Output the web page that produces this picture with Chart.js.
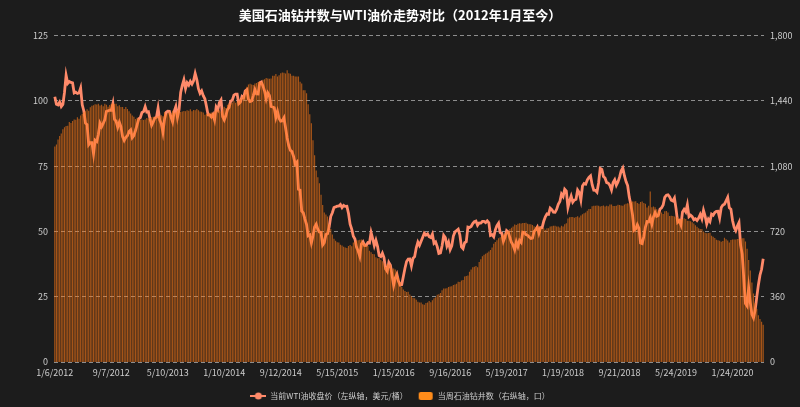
<!DOCTYPE html>
<html>
<head>
<meta charset="utf-8">
<script src="https://cdn.jsdelivr.net/npm/chart.js@4.4.1/dist/chart.umd.min.js"></script>
<style>
  html, body { margin: 0; padding: 0; background: #1c1c1c; }
  #wrap { width: 800px; height: 407px; }
</style>
</head>
<body>
<div id="wrap"><canvas id="c" width="800" height="407"></canvas></div>
<script>
// ---- Data (weekly, Fridays, starting 1/6/2012) ----
const startWeek = '2012-01-06';
const tickEvery = 35;

// WTI weekly close (USD/bbl), left axis
const wti2012 = [101.56,98.70,98.46,99.56,97.84,98.67,103.24,109.77,106.70,107.40,107.06,106.87,103.02,103.31,102.83,103.05,104.93,98.49,96.13,91.48,90.86,83.23,84.10,84.03,79.76,84.96,84.45,87.10,91.44,90.13,91.40,92.87,96.01,96.15,96.47,96.42,99.00,92.89,92.19,89.88,91.86,90.05,86.28,84.86,86.07,86.67,88.28,88.91,85.93,86.73,88.66,90.80];
const wti2013 = [93.09,93.56,95.56,95.88,97.77,95.72,95.86,93.13,90.68,91.95,93.45,93.71,97.23,92.70,91.29,88.01,93.00,95.61,96.04,96.02,93.84,91.97,96.03,97.85,93.69,96.56,103.22,105.95,108.05,104.70,106.94,106.03,107.46,106.42,107.65,110.53,108.21,104.67,102.87,103.84,102.02,100.81,97.85,94.61,94.60,93.84,94.84,92.72,97.65,96.60,99.32,100.32];
const wti2014 = [93.96,92.72,94.37,96.64,97.49,99.88,100.30,102.20,102.59,102.58,98.89,99.46,101.67,101.14,103.74,104.30,100.60,99.76,99.99,102.02,104.35,102.71,102.66,106.91,107.26,105.74,103.77,100.83,103.13,102.09,97.88,97.65,97.35,93.65,95.96,93.29,92.27,92.41,93.54,89.74,85.82,82.75,81.01,80.54,78.65,75.82,76.51,66.15,65.84,57.81,57.13,54.73];
const wti2015 = [52.69,48.36,48.69,45.59,48.24,51.69,52.78,50.81,49.76,49.61,44.84,45.72,48.87,49.14,51.64,55.74,57.15,59.15,59.39,59.69,59.72,60.30,59.13,59.96,59.61,59.63,56.93,52.74,50.89,48.14,47.12,43.87,42.50,40.45,45.22,46.05,44.63,44.68,45.70,45.54,49.63,47.26,44.60,46.59,44.29,40.74,40.39,41.71,39.97,35.62,34.73,38.10];
const wti2016 = [37.04,33.16,29.42,32.19,33.62,30.89,29.44,29.64,32.78,35.92,38.50,39.44,39.46,36.79,39.72,40.36,43.73,45.92,44.66,46.21,47.75,49.33,48.62,49.07,47.98,47.64,48.99,45.41,45.95,44.19,41.60,41.80,44.49,48.52,47.64,44.44,45.88,43.03,44.48,48.24,49.81,50.35,50.85,48.70,44.07,43.41,45.69,46.06,51.68,51.50,51.90,53.02,53.72];
const wti2017 = [53.99,52.37,53.22,53.17,53.83,53.86,53.40,54.05,53.33,48.49,48.78,47.97,50.60,52.24,53.18,49.62,49.33,46.22,47.84,50.33,49.80,47.66,45.83,44.74,43.01,46.04,44.23,46.54,45.77,49.71,49.58,48.82,48.51,47.87,47.29,47.48,49.89,50.66,51.67,49.29,51.45,51.47,53.90,55.64,56.74,56.55,58.95,58.36,57.36,57.30,58.47,60.42];
const wti2018 = [61.44,64.30,63.37,66.14,65.45,59.20,61.68,63.55,61.25,62.04,62.34,65.88,64.94,62.06,67.39,68.38,68.10,69.72,70.70,71.28,67.88,65.81,65.74,65.06,68.58,74.15,73.80,71.01,70.46,68.69,68.49,67.63,65.91,68.72,69.80,67.75,68.99,70.78,73.25,74.34,71.34,69.12,67.59,63.14,60.19,56.46,50.42,50.93,52.61,51.20,45.59,45.33];
const wti2019 = [47.96,51.59,53.80,53.69,55.26,52.72,55.59,57.26,55.80,56.07,58.52,59.04,60.14,63.08,63.89,64.00,63.30,61.94,61.66,62.76,58.63,53.50,54.10,52.51,57.43,58.47,57.51,60.21,55.63,56.20,55.66,54.50,54.87,54.17,55.10,56.52,54.85,58.09,55.91,52.81,54.70,53.78,56.66,56.20,57.24,57.72,57.77,55.17,59.20,60.07,60.44,61.72];
const wti2020 = [63.05,59.04,58.54,54.19,51.56,50.32,52.05,53.38,44.76,41.28,31.73,22.43,21.51,28.34,22.76,18.27,16.94,19.78,24.74,29.43,33.25,35.49,39.55];

// US oil rig count (weekly), right axis
const rig2012 = [1189,1199,1227,1247,1260,1283,1294,1301,1303,1323,1318,1329,1338,1336,1350,1341,1360,1368,1379,1383,1394,1386,1405,1413,1416,1421,1420,1424,1415,1419,1410,1424,1419,1408,1417,1423,1427,1423,1424,1410,1416,1406,1406,1395,1406,1395,1383,1370,1360,1353,1340,1347];
const rig2013 = [1341,1336,1337,1334,1337,1345,1342,1345,1350,1353,1351,1353,1357,1359,1361,1355,1379,1366,1373,1380,1374,1386,1374,1377,1387,1393,1378,1382,1384,1383,1389,1385,1394,1383,1390,1388,1395,1389,1381,1380,1376,1364,1368,1370,1374,1376,1375,1380,1387,1392,1389,1382];
const rig2014 = [1394,1408,1401,1418,1425,1425,1431,1439,1430,1436,1441,1452,1462,1474,1502,1518,1531,1534,1530,1527,1536,1538,1544,1548,1543,1556,1559,1566,1563,1562,1564,1578,1579,1588,1574,1581,1593,1597,1595,1591,1609,1592,1590,1578,1578,1574,1574,1575,1546,1536,1499,1499];
const rig2015 = [1482,1421,1366,1317,1223,1140,1056,1019,986,922,866,825,813,802,760,734,703,679,668,660,659,646,642,635,631,628,640,645,638,659,664,670,672,674,675,662,652,644,640,614,605,595,594,578,572,574,564,555,545,524,541,538];
const rig2016 = [536,516,515,510,498,467,439,413,400,392,386,387,372,362,354,351,343,332,328,328,318,316,325,328,337,330,341,351,357,371,374,381,396,406,406,407,414,416,418,425,428,432,443,441,450,452,471,474,477,498,510,523,525];
const rig2017 = [529,522,551,566,583,591,597,602,609,617,631,652,662,672,683,688,697,703,712,720,722,733,741,747,758,756,763,765,764,766,766,768,763,759,759,756,749,744,750,748,743,736,737,729,738,738,747,749,751,752,747,747];
const rig2018 = [742,752,747,759,765,791,798,799,800,796,800,804,797,808,815,820,825,834,844,844,859,861,862,863,862,858,860,863,858,861,859,869,869,860,860,862,867,866,863,861,869,873,875,874,886,885,885,887,877,873,883,885];
const rig2019 = [877,873,852,862,940,854,857,853,843,834,833,824,816,831,833,825,805,807,805,802,797,800,789,788,789,793,788,779,779,776,770,764,754,746,738,733,733,719,713,710,712,713,696,691,684,674,671,668,663,667,685,677];
const rig2020 = [670,659,673,676,675,676,678,678,679,682,682,664,624,562,504,438,378,325,292,258,237,222,206];

const wti = [].concat(wti2012, wti2013, wti2014, wti2015, wti2016, wti2017, wti2018, wti2019, wti2020);
const rigs = [].concat(rig2012, rig2013, rig2014, rig2015, rig2016, rig2017, rig2018, rig2019, rig2020);

const leftTicks = [0, 25, 50, 75, 100, 125];
const rightTicks = [0, 360, 720, 1080, 1440, 1800];

// week labels M/D/YYYY
const t0 = Date.parse(startWeek + 'T00:00:00Z');
const weeks = wti.map((_, i) => {
  const d = new Date(t0 + i * 7 * 86400000);
  return (d.getUTCMonth() + 1) + '/' + d.getUTCDate() + '/' + d.getUTCFullYear();
});

const lineColor = '#ff8a6a';
const barColor = 'rgba(250,120,22,0.62)';
const swatchColor = '#ff8c1a';
const font = '"Noto Sans CJK SC", "Noto Sans", sans-serif';

function makeIcon(kind) {
  const cv = document.createElement('canvas');
  cv.width = 16; cv.height = 10;
  const g = cv.getContext('2d');
  if (kind === 'line') {
    g.strokeStyle = lineColor; g.lineWidth = 2;
    g.beginPath(); g.moveTo(0, 5); g.lineTo(16, 5); g.stroke();
    g.fillStyle = lineColor;
    g.beginPath(); g.arc(8, 5, 3.5, 0, Math.PI * 2); g.fill();
  } else {
    g.fillStyle = swatchColor;
    g.beginPath();
    if (g.roundRect) g.roundRect(1, 1, 14, 8, 2); else g.rect(1, 1, 14, 8);
    g.fill();
  }
  return cv;
}
const lineIcon = makeIcon('line');
const barIcon = makeIcon('bar');

new Chart(document.getElementById('c'), {
  type: 'bar',
  data: {
    labels: weeks,
    datasets: [
      {
        type: 'line',
        label: '当前WTI油收盘价（左纵轴，美元/桶）',
        data: wti,
        yAxisID: 'y',
        borderColor: lineColor,
        backgroundColor: lineColor,
        borderWidth: 2.8,
        pointRadius: 0,
        tension: 0,
        order: 2
      },
      {
        type: 'bar',
        label: '当周石油钻井数（右纵轴，口）',
        data: rigs,
        yAxisID: 'y1',
        backgroundColor: barColor,
        borderWidth: 0,
        categoryPercentage: 0.8,
        barPercentage: 0.9,
        order: 1
      }
    ]
  },
  options: {
    responsive: false,
    animation: false,
    layout: { padding: { left: 0, right: 0, top: 0, bottom: -3 } },
    plugins: {
      title: {
        display: true,
        text: '美国石油钻井数与WTI油价走势对比（2012年1月至今）',
        color: '#ffffff',
        font: { family: font, size: 13, weight: 'bold' },
        padding: { top: 7, bottom: 13 }
      },
      legend: {
        position: 'bottom',
        labels: {
          color: '#cccccc',
          font: { family: font, size: 8 },
          usePointStyle: true,
          pointStyleWidth: 16,
          padding: 10,
          generateLabels: (chart) => [
            { text: chart.data.datasets[0].label, pointStyle: lineIcon, fillStyle: lineColor, strokeStyle: lineColor, lineWidth: 0, fontColor: '#cccccc', datasetIndex: 0, hidden: false },
            { text: chart.data.datasets[1].label, pointStyle: barIcon, fillStyle: swatchColor, strokeStyle: swatchColor, lineWidth: 0, fontColor: '#cccccc', datasetIndex: 1, hidden: false }
          ]
        }
      },
      tooltip: { enabled: false }
    },
    scales: {
      x: {
        offset: true,
        grid: { display: false, drawTicks: false },
        border: { display: false },
        ticks: {
          color: '#cccccc',
          font: { family: font, size: 9 },
          autoSkip: false,
          maxRotation: 0,
          minRotation: 0,
          padding: 5,
          callback: function (v, i) { return i % tickEvery === 0 ? this.getLabelForValue(v) : ''; }
        },
        afterFit: (s) => { s.height = 20; }
      },
      y: {
        position: 'left',
        min: 0, max: 125,
        afterBuildTicks: (s) => { s.ticks = leftTicks.map(v => ({ value: v })); },
        grid: { color: 'rgba(190,190,190,0.7)', drawTicks: false, lineWidth: 1 },
        border: { display: false, dash: [4, 3] },
        ticks: { color: '#cccccc', font: { family: font, size: 9 }, padding: 6 },
        afterFit: (s) => { s.width = 54; }
      },
      y1: {
        position: 'right',
        min: 0, max: 1800,
        afterBuildTicks: (s) => { s.ticks = rightTicks.map(v => ({ value: v })); },
        grid: { display: false, drawTicks: false },
        border: { display: false },
        ticks: {
          color: '#cccccc', font: { family: font, size: 9 }, padding: 6,
          callback: (v) => Number(v).toLocaleString('en-US')
        },
        afterFit: (s) => { s.width = 36; }
      }
    }
  }
});
</script>
</body>
</html>
